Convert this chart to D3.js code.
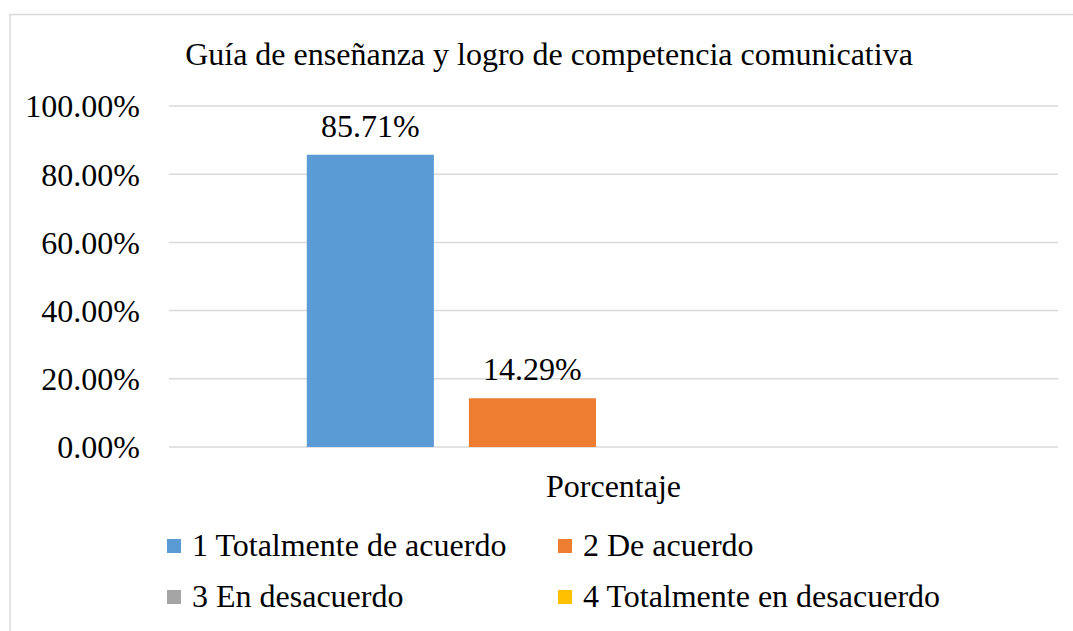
<!DOCTYPE html>
<html>
<head>
	<meta charset="utf-8">
	<script src="https://d3js.org/d3.v7.min.js"></script>
	<style>
		body { margin: 0; background: #fff; }
		text { font-family: "Liberation Serif", "Times New Roman", serif; fill: #000; }
	</style>
</head>
<body>
	<script type="text/javascript">
		"use strict";

		// chart data
		var categories = ["Porcentaje"];
		var seriesNames = ["1 Totalmente de acuerdo", "2 De acuerdo", "3 En desacuerdo", "4 Totalmente en desacuerdo"];
		var seriesValues = [0.8571, 0.1429, 0, 0];
		var seriesColors = ["#5B9BD5", "#ED7D31", "#A5A5A5", "#FFC000"];
		var yTicks = [0, 0.2, 0.4, 0.6, 0.8, 1.0];
		var title = "Guía de enseñanza y logro de competencia comunicativa";

		var width = 1073,
			height = 631,
			fs = 32;

		var svg = d3.select("body")
			.append("svg")
			.attr("width", width)
			.attr("height", height);

		// outer chart border (right and bottom fall outside the picture)
		svg.append("rect")
			.attr("x", 10)
			.attr("y", 14.5)
			.attr("width", 1080)
			.attr("height", 640)
			.attr("fill", "none")
			.attr("stroke", "#d9d9d9")
			.attr("stroke-width", 1.5);

		var plot = { left: 169, right: 1058, top: 106, bottom: 447 };

		var y = d3.scaleLinear()
			.domain([0, 1])
			.range([plot.bottom, plot.top]);

		var x0 = d3.scaleBand()
			.domain(categories)
			.range([plot.left, plot.right]);

		// bars fill ~69% of the category band
		var groupW = x0.bandwidth() * 0.69;
		var x1 = d3.scaleBand()
			.domain(seriesNames)
			.range([0, groupW])
			.paddingInner(0.216);

		// gridlines
		svg.append("g")
			.selectAll("line")
			.data(yTicks)
			.enter()
			.append("line")
			.attr("x1", plot.left)
			.attr("x2", plot.right)
			.attr("y1", function (d) { return y(d); })
			.attr("y2", function (d) { return y(d); })
			.attr("stroke", "#d9d9d9")
			.attr("stroke-width", 1.5);

		// y tick labels
		var yAxis = d3.axisLeft(y)
			.tickValues(yTicks)
			.tickSize(0)
			.tickPadding(0)
			.tickFormat(function (d) { return (d * 100).toFixed(2) + "%"; });

		var ya = svg.append("g")
			.attr("transform", "translate(140,0)")
			.call(yAxis);
		ya.select(".domain").remove();
		ya.selectAll("text")
			.attr("font-family", "Liberation Serif")
			.attr("font-size", fs)
			.attr("dy", "0.34em");

		// bars
		var groups = svg.selectAll(".cat")
			.data(categories)
			.enter()
			.append("g")
			.attr("class", "cat")
			.attr("transform", function (c) {
				return "translate(" + (x0(c) + (x0.bandwidth() - groupW) / 2) + ",0)";
			});

		var barData = seriesNames.map(function (s, i) {
			return { name: s, value: seriesValues[i], color: seriesColors[i] };
		});

		groups.selectAll("rect")
			.data(barData)
			.enter()
			.append("rect")
			.attr("x", function (d) { return x1(d.name); })
			.attr("width", x1.bandwidth())
			.attr("y", function (d) { return y(d.value); })
			.attr("height", function (d) { return y(0) - y(d.value); })
			.attr("fill", function (d) { return d.color; });

		// value labels (only the non-zero bars show one)
		groups.selectAll(".lbl")
			.data(barData.filter(function (d) { return d.value > 0; }))
			.enter()
			.append("text")
			.attr("class", "lbl")
			.attr("x", function (d) { return x1(d.name) + x1.bandwidth() / 2; })
			.attr("y", function (d) { return y(d.value) - 18; })
			.attr("text-anchor", "middle")
			.attr("font-size", fs)
			.text(function (d) { return (d.value * 100).toFixed(2) + "%"; });

		// category label
		svg.selectAll(".catlbl")
			.data(categories)
			.enter()
			.append("text")
			.attr("class", "catlbl")
			.attr("x", function (c) { return x0(c) + x0.bandwidth() / 2; })
			.attr("y", 497)
			.attr("text-anchor", "middle")
			.attr("font-size", fs)
			.text(function (c) { return c; });

		// title
		svg.append("text")
			.attr("x", 549)
			.attr("y", 65)
			.attr("text-anchor", "middle")
			.attr("font-size", fs)
			.text(title);

		// legend, 2 x 2
		var legendX = [167, 558],
			legendY = [556, 607];

		var leg = svg.selectAll(".leg")
			.data(barData)
			.enter()
			.append("g")
			.attr("class", "leg")
			.attr("transform", function (d, i) {
				return "translate(" + legendX[i % 2] + "," + legendY[Math.floor(i / 2)] + ")";
			});

		leg.append("rect")
			.attr("x", 0)
			.attr("y", -17)
			.attr("width", 14)
			.attr("height", 14)
			.attr("fill", function (d) { return d.color; });

		leg.append("text")
			.attr("x", 25)
			.attr("y", 0)
			.attr("font-size", fs)
			.text(function (d) { return d.name; });
	</script>
</body>
</html>
